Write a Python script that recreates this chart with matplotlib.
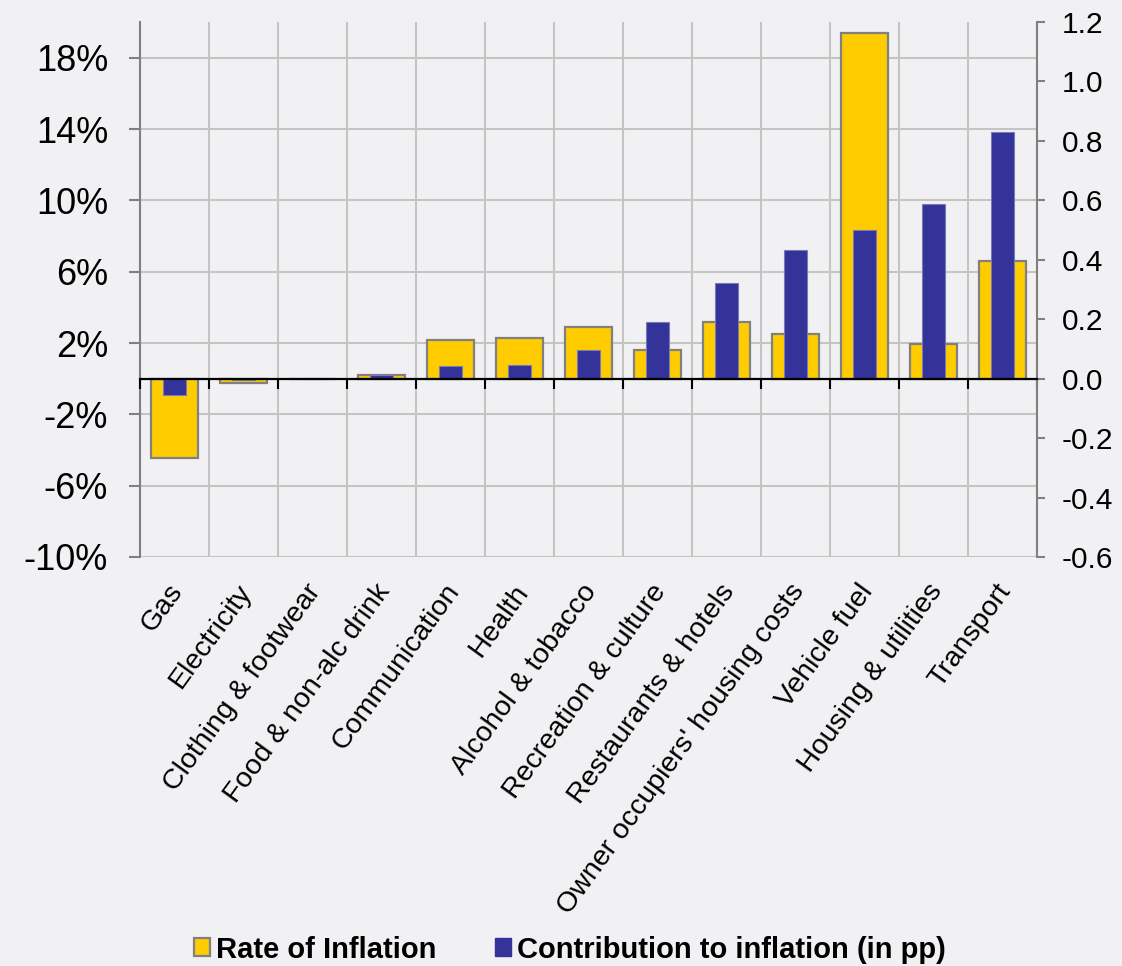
import numpy as np
import matplotlib
matplotlib.use("Agg")
import matplotlib.pyplot as plt
from matplotlib.patches import Patch
from matplotlib.ticker import FuncFormatter

plt.rcParams['font.family'] = ['Liberation Sans', 'DejaVu Sans']
plt.rcParams['axes.unicode_minus'] = False

categories = ["Gas", "Electricity", "Clothing & footwear", "Food & non-alc drink",
              "Communication", "Health", "Alcohol & tobacco", "Recreation & culture",
              "Restaurants & hotels", "Owner occupiers' housing costs", "Vehicle fuel",
              "Housing & utilities", "Transport"]
# rate of inflation, % (left axis)
inflation = [-4.45, -0.23, 0.0, 0.19, 2.17, 2.26, 2.89, 1.58, 3.19, 2.48, 19.38, 1.95, 6.59]
# contribution to inflation, pp (right axis)
contribution = [-0.055, -0.003, 0.0, 0.014, 0.043, 0.045, 0.097, 0.192, 0.323, 0.433,
                0.501, 0.588, 0.831]

left_ticks = [-10, -6, -2, 2, 6, 10, 14, 18]
right_ticks = [-0.6, -0.4, -0.2, 0.0, 0.2, 0.4, 0.6, 0.8, 1.0, 1.2]

YELLOW = '#FFCC00'
BLUE = '#333399'
BG = '#F1F1F3'
GREY = '#808080'
GRID = '#C4C4C4'

x = np.arange(len(categories))
edges = np.arange(len(categories) + 1) - 0.5

fig = plt.figure(figsize=(11.22, 9.66), dpi=100, facecolor=BG)
rect = [0.1248, 0.4234, 0.7994, 0.5538]
ax = fig.add_axes(rect, facecolor=BG)
ax2 = fig.add_axes(rect, facecolor='none')

# rate of inflation on the left axis
ax.bar(x, inflation, width=0.68, color=YELLOW, edgecolor=GREY, linewidth=1.6, zorder=2)
ax.set_xlim(-0.5, len(categories) - 0.5)
ax.set_ylim(-10, 20)
ax.set_yticks(left_ticks)
ax.yaxis.set_major_formatter(FuncFormatter(lambda v, p: f"{v:.0f}%"))
ax.set_xticks(x)
ax.set_xticklabels([])
ax.set_xticks(edges, minor=True)
ax.tick_params(axis='x', which='both', length=0)
ax.tick_params(axis='y', direction='out', length=8, width=1.5, color=GREY,
               labelsize=26, pad=15)
ax.set_axisbelow(True)
ax.grid(axis='y', which='major', color=GRID, linewidth=1.5)
ax.grid(axis='x', which='minor', color=GRID, linewidth=1.5)
for side in ['top', 'right', 'bottom']:
    ax.spines[side].set_visible(False)
ax.spines['left'].set_color(GREY)
ax.spines['left'].set_linewidth(1.5)

for i, name in enumerate(categories):
    ax.text(i + 0.05, -0.056, name, transform=ax.get_xaxis_transform(),
            rotation=54, rotation_mode='anchor', ha='right', va='center',
            fontsize=20.5)

# contribution on the right axis
ax2.bar(x, contribution, width=0.33, color=BLUE, edgecolor='#7A7AB8',
        linewidth=0.8, zorder=2)
ax2.set_xlim(-0.5, len(categories) - 0.5)
ax2.set_ylim(-0.6, 1.2)
ax2.set_yticks(right_ticks)
ax2.yaxis.set_major_formatter(FuncFormatter(lambda v, p: f"{v:.1f}"))
ax2.yaxis.tick_right()
ax2.tick_params(axis='y', direction='out', length=6, width=1.5, color=GREY,
                labelsize=21.5, pad=12)
ax2.set_xticks(edges)
ax2.set_xticklabels([])
ax2.tick_params(axis='x', direction='out', length=7, width=1.5, color='black')
ax2.spines['bottom'].set_position(('data', 0))
ax2.spines['bottom'].set_color('black')
ax2.spines['bottom'].set_linewidth(1.6)
ax2.spines['bottom'].set_zorder(5)
for side in ['top', 'left']:
    ax2.spines[side].set_visible(False)
ax2.spines['right'].set_color(GREY)
ax2.spines['right'].set_linewidth(1.5)

handles = [Patch(facecolor=YELLOW, edgecolor=GREY, linewidth=1.6, label='Rate of Inflation'),
           Patch(facecolor=BLUE, edgecolor=BLUE, label='Contribution to inflation (in pp)')]
fig.legend(handles=handles, loc='center', bbox_to_anchor=(0.508, 0.017), ncol=2,
           frameon=False, handlelength=0.56, handleheight=0.56, handletextpad=0.2,
           columnspacing=2.0,
           prop={'weight': 'bold', 'size': 21})

fig.savefig('out.png', dpi=100, facecolor=BG)
